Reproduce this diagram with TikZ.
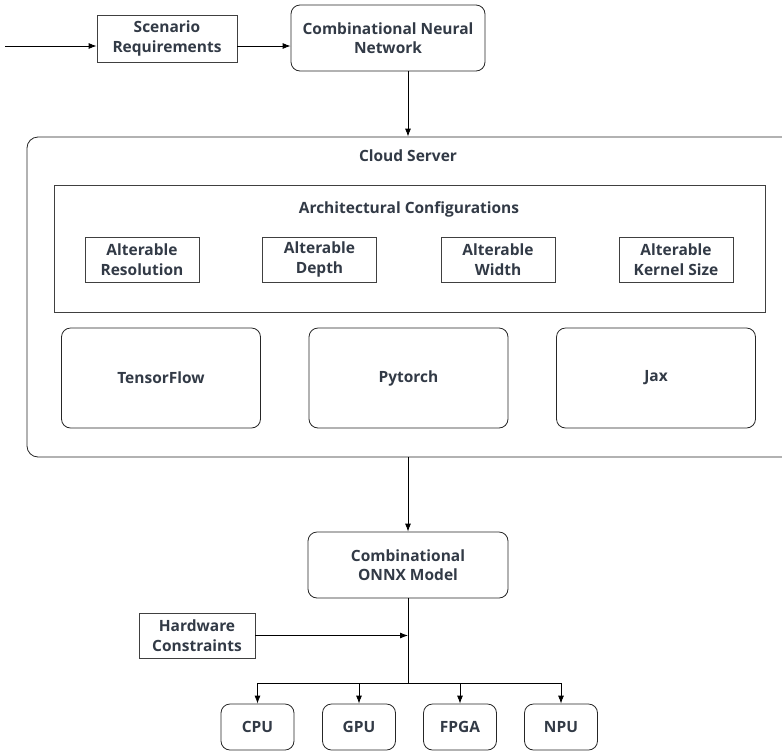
\documentclass[tikz,border=0pt]{standalone}
\usepackage{fontspec}
\setmainfont{Open Sans}
\usepackage{tikz}
\usetikzlibrary{arrows.meta,calc}
\definecolor{txt}{RGB}{50,58,70}

\begin{document}
\begin{tikzpicture}[x=1pt,y=-1pt,
  every node/.style={font=\bfseries\fontsize{15.5}{19.5}\selectfont,text=txt,align=center,inner sep=0pt},
  sqbox/.style={draw=black!75,line width=0.8pt},
  rbox/.style={draw=black!85,line width=0.8pt,rounded corners=9pt},
  link/.style={line width=0.8pt,-{Latex[length=8pt,width=6pt]}}]
\useasboundingbox (0,0) rectangle (782,753);
\clip (0,0) rectangle (782,753);

% top row
\coordinate (in) at (5,46);
\node[sqbox,minimum width=140,minimum height=47] (req) at (167,38.5) {Scenario\\Requirements};
\node[rbox,minimum width=194,minimum height=66] (cnn) at (388,38) {Combinational Neural\\Network};
\draw[link] (in) -- (in -| req.west);
\draw[link] (req.east |- in) -- (cnn.west |- in);

% cloud server
\node[rbox,rounded corners=11pt,minimum width=783,minimum height=320] (cloud) at (418.5,297) {};
\node (cloudlbl) at (408,156) {Cloud Server};
\draw[link] (cnn.south -| 408,0) -- (408,0 |- cloud.north);

\node[sqbox,minimum width=711,minimum height=127] (arch) at (409.5,248.5) {};
\node (archlbl) at (409,209) {Architectural Configurations};
\node[sqbox,minimum width=114,minimum height=45] (res) at (142,259.5) {Alterable\\Resolution};
\node[sqbox,minimum width=114,minimum height=45] (dep) at (319.5,259.5) {Alterable\\Depth};
\node[sqbox,minimum width=114,minimum height=45] (wid) at (498,259.5) {Alterable\\Width};
\node[sqbox,minimum width=114,minimum height=45] (ker) at (676,259.5) {Alterable\\Kernel Size};

\node[rbox,minimum width=199,minimum height=100] (tf) at (161,378) {TensorFlow};
\node[rbox,minimum width=199,minimum height=100] (pt) at (408.5,378) {Pytorch};
\node[rbox,minimum width=199,minimum height=100] (jax) at (656,378) {Jax};

% deployment
\node[rbox,minimum width=200,minimum height=66] (onnx) at (408,565) {Combinational\\ONNX Model};
\draw[link] (onnx.north |- cloud.south) -- (onnx.north);

\node[sqbox,minimum width=116,minimum height=45] (hw) at (197,635.5) {Hardware\\Constraints};
\coordinate (split) at (408,683);
\draw[line width=0.8pt] (onnx.south) -- (split);
\draw[link] (hw.east) -- (hw.east -| onnx.south);

\foreach \name/\lbl/\xx in {cpu/CPU/257.5,gpu/GPU/359,fpga/FPGA/460,npu/NPU/561}{
  \node[rbox,minimum width=73,minimum height=46] (\name) at (\xx,727) {\lbl};
  \draw[link] (split) -| (\name.north);
}

\end{tikzpicture}
\end{document}
